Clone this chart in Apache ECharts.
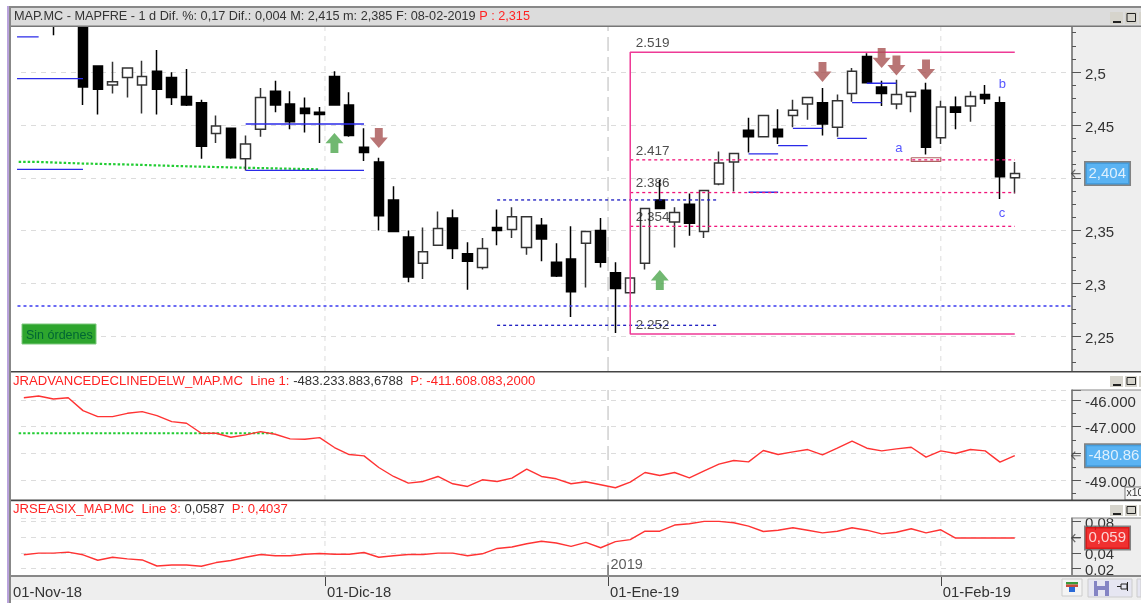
<!DOCTYPE html>
<html><head><meta charset="utf-8">
<script src="https://cdn.jsdelivr.net/npm/echarts@6/dist/echarts.min.js"></script>
<style>html,body{margin:0;padding:0;background:#fff}#c{width:1141px;height:603px}</style>
</head><body><div id="c"></div>
<script>
// ---- candles: [index, open, close, low, high]
const candles = [
[-2,2.56,2.55,2.535,2.57],[0,2.56,2.486,2.469,2.57],[1,2.506,2.484,2.46,2.506],[2,2.488,2.491,2.48,2.51],
[3,2.495,2.504,2.476,2.504],[4,2.488,2.496,2.461,2.511],[5,2.501,2.484,2.46,2.521],[6,2.495,2.476,2.469,2.5],
[7,2.477,2.469,2.468,2.503],[8,2.471,2.43,2.418,2.474],[9,2.442,2.449,2.433,2.459],[10,2.447,2.419,2.418,2.447],
[11,2.418,2.432,2.407,2.44],[12,2.446,2.476,2.439,2.485],[13,2.482,2.469,2.462,2.492],[14,2.47,2.453,2.446,2.482],
[15,2.466,2.461,2.443,2.476],[16,2.462,2.46,2.433,2.467],[17,2.496,2.469,2.469,2.501],[18,2.469,2.44,2.439,2.481],
[19,2.429,2.424,2.416,2.447],[20,2.415,2.364,2.35,2.419],[21,2.379,2.349,2.349,2.392],[22,2.344,2.306,2.301,2.35],
[23,2.319,2.33,2.304,2.353],[24,2.336,2.352,2.336,2.368],[25,2.362,2.333,2.323,2.37],[26,2.328,2.321,2.294,2.339],
[27,2.315,2.333,2.313,2.343],[28,2.353,2.35,2.336,2.37],[29,2.351,2.363,2.343,2.372],[30,2.334,2.363,2.327,2.363],
[31,2.355,2.342,2.321,2.362],[32,2.32,2.307,2.306,2.338],[33,2.323,2.292,2.268,2.354],[34,2.338,2.349,2.296,2.349],
[35,2.35,2.32,2.315,2.362],[36,2.31,2.295,2.253,2.32],[37,2.291,2.305,2.291,2.305],[38,2.319,2.371,2.313,2.371],
[39,2.379,2.371,2.371,2.398],[40,2.358,2.367,2.334,2.372],[41,2.375,2.357,2.345,2.385],[42,2.349,2.388,2.343,2.388],
[43,2.394,2.414,2.393,2.425],[44,2.415,2.423,2.387,2.423],[45,2.445,2.439,2.424,2.457],[46,2.439,2.459,2.439,2.459],
[47,2.446,2.439,2.432,2.465],[48,2.459,2.464,2.448,2.474],[49,2.47,2.476,2.455,2.476],[50,2.471,2.451,2.44,2.485],
[51,2.448,2.473,2.439,2.479],[52,2.48,2.501,2.472,2.504],[53,2.515,2.49,2.49,2.518],[54,2.486,2.48,2.468,2.492],
[55,2.47,2.479,2.465,2.493],[56,2.477,2.481,2.462,2.481],[57,2.483,2.429,2.422,2.49],[58,2.438,2.467,2.432,2.473],
[59,2.467,2.462,2.446,2.477],[60,2.468,2.477,2.453,2.482],[61,2.479,2.475,2.47,2.488],[62,2.471,2.401,2.38,2.477],
[63,2.4,2.404,2.385,2.415]];
// ---- indicator lines, index -4 .. 63
const advDecl = [-45913,-45851,-45963,-45913,-46398,-46622,-46622,-46498,-46436,-46585,-46809,-46871,-47245,-47245,-47394,-47307,-47183,-47282,-47457,-47469,-47407,-47780,-48042,-48092,-48527,-48864,-49112,-49050,-48864,-49137,-49237,-48988,-49050,-48926,-48590,-48864,-48951,-49137,-49063,-49175,-49287,-49075,-48714,-48826,-48714,-48913,-48652,-48403,-48266,-48316,-47892,-48042,-47942,-47855,-48054,-47805,-47544,-47805,-47905,-47830,-47768,-48141,-47905,-48004,-47855,-47905,-48328,-48086];
const seasix = [0.0374,0.0396,0.0396,0.0409,0.0374,0.0304,0.0343,0.0322,0.0308,0.023,0.0243,0.0243,0.0226,0.0274,0.03,0.0343,0.0378,0.0361,0.0361,0.0382,0.0391,0.0382,0.0382,0.0404,0.0343,0.0361,0.0378,0.0378,0.0396,0.0396,0.0361,0.0387,0.0456,0.0474,0.0517,0.0548,0.0526,0.0482,0.0535,0.0465,0.0543,0.0569,0.0678,0.0678,0.0757,0.0774,0.0804,0.0804,0.0787,0.0743,0.0674,0.0691,0.0722,0.0691,0.0656,0.0678,0.0722,0.0691,0.0643,0.0665,0.0709,0.0656,0.0696,0.059,0.059,0.059,0.059,0.059];
const greenPrice = [[-4.35,2.415],[-3,2.415],[-3,2.4135],[0,2.4135],[0,2.4125],[3.3,2.4125],[3.3,2.411],[6.7,2.411],[6.7,2.4095],[11,2.4095],[11,2.408],[16,2.408]];
const greenAdv = [[-4.35,-47245],[13,-47245]];
// ---- annotations on the price panel: [x0, x1, price]
const blueLines = [[-4.46,-3,2.5335],[-4.46,0,2.494],[-4.46,0,2.408],[11,19,2.451],[11,19,2.407],[45,47,2.4226],[47,49,2.4304],[48,50,2.4469],[51,53,2.4374],[52,54,2.4712],[53,55,2.4896],[45,47,2.3863]];
const navyDash = [[28,43,2.379],[28,43,2.2602]];
const wideBlue = [[-4.43,66.87,2.2785]];
const fibDash = [[37,63,2.417],[37,63,2.386],[37,63,2.354]];
const fibBox = [[63,2.519],[37,2.519],[37,2.252],[63,2.252]];
const brownBox = [[56,2.419],[58,2.419],[58,2.4155],[56,2.4155],[56,2.419]];
const fibLabels = [[37,2.519,'2.519'],[37,2.417,'2.417'],[37,2.386,'2.386'],[37,2.354,'2.354'],[37,2.252,'2.252']];
const waveLabels = [[54.75,2.4282,'a'],[61.75,2.4889,'b'],[61.75,2.3666,'c']];
const upArrows = [[17,2.433],[39,2.3031]];
const downArrows = [[20,2.4377],[50,2.5003],[54,2.5135],[55,2.5064],[57,2.5027]];
// ---- axes
const xMin = -4.868, xMax = 66.87;
const dateTicks = [-4.868,16.36,35.5,58];
const dateLabels = ['01-Nov-18','01-Dic-18','01-Ene-19','01-Feb-19'];
const hiddenTicks = [2.4,-48000,0.06];
const lastValues = {price:2.404, adv:-48086, sea:0.059};

const FONT='"Liberation Sans",Arial,sans-serif', TFONT='"Liberation Sans",Arial,sans-serif';
const grids=[{left:11,width:1061,top:25,height:346},{left:11,width:1061,top:390,height:110},{left:11,width:1061,top:518,height:58}];
const yr=[[2.2169,2.5448],[-49745,-45625],[0.0101,0.0848]];
const DASH='#dcdcdc';
const hide=(v,s)=>hiddenTicks.some(h=>Math.abs(h-v)<1e-6)?'':'{a|'+s+'}';
function xAxis(i){return {gridIndex:i,type:'value',min:xMin,max:xMax,splitLine:{show:false},
  axisLine:{show:false},
  axisTick:i==2?{show:true,customValues:dateTicks.slice(1),length:10,lineStyle:{color:'#444',width:1}}:{show:false},
  axisLabel:i==2?{show:true,customValues:dateTicks,align:'left',margin:9,padding:[0,0,0,2],color:'#333',fontFamily:FONT,fontSize:14.8,hideOverlap:false,showMinLabel:true,showMaxLabel:true,
     formatter:v=>dateLabels[dateTicks.indexOf(v)]||''}:{show:false}};}
function yAxis(i,fmt,split,minor){return {gridIndex:i,type:'value',position:'right',min:yr[i][0],max:yr[i][1],splitNumber:split,
  axisLine:{show:true,onZero:false,lineStyle:{color:'#666',width:1.5}},
  axisTick:{show:true,length:9,lineStyle:{color:'#555'}},
  minorTick:minor?{show:true,splitNumber:minor,length:4,lineStyle:{color:'#555'}}:{show:false},
  splitLine:{show:true,lineStyle:{color:DASH,type:[5,5],width:1}},
  axisLabel:{show:true,margin:13,color:'#333',fontFamily:FONT,fontSize:15,showMinLabel:false,showMaxLabel:false,formatter:fmt,
    rich:{a:{padding:[5,0,0,0],color:'#333',fontFamily:FONT,fontSize:15}}}};}
function seg(data,color,type,width,g,z,name){return {type:'line',name:name||'',xAxisIndex:g||0,yAxisIndex:g||0,data:data,symbol:'none',silent:true,animation:false,z:z||3,
  lineStyle:{color:color,type:type||'solid',width:width||1.3}};}
function mark(data,sym,color,size){return {type:'scatter',data:data,symbol:sym,symbolSize:size,silent:true,animation:false,z:6,itemStyle:{color:color},clip:false};}
function labels(data,color,size,offset,g,z){return {type:'scatter',xAxisIndex:g||0,yAxisIndex:g||0,symbolSize:1,itemStyle:{color:'transparent'},silent:true,animation:false,z:z||7,
  data:data.map(d=>({value:[d[0],d[1]],label:{formatter:d[2]}})),
  label:{show:true,position:'right',distance:2,offset:offset,color:color,fontFamily:FONT,fontSize:size}};}
function valueBox(x,y,g,text,bg,w){return {type:'scatter',xAxisIndex:g,yAxisIndex:g,symbolSize:1,clip:false,itemStyle:{color:'transparent'},silent:true,animation:false,z:9,
  data:[{value:[x,y],label:{formatter:text}}],
  label:{show:true,position:'right',distance:0,color:'#fff',fontFamily:FONT,fontSize:15,backgroundColor:bg,borderColor:'#666',borderWidth:1.5,padding:[3,1,2,3],width:w,height:17,overflow:'truncate',ellipsis:''}};}
const fontDark='#333',red='#f22';
const titles=[
 {left:14,top:10,padding:0,z:12,text:'MAP.MC - MAPFRE - 1 d Dif. %: 0,17 Dif.: 0,004 M: 2,415 m: 2,385 F: 08-02-2019 {r|P : 2,315}',
  textStyle:{fontFamily:TFONT,fontSize:12.7,fontWeight:'normal',color:fontDark,rich:{r:{fontFamily:TFONT,fontSize:12.7,color:red}}}},
 {left:13,top:375,padding:0,z:12,text:'{r|JRADVANCEDECLINEDELW_MAP.MC  Line 1:} {d|-483.233.883,6788}  {r|P: -411.608.083,2000}',
  textStyle:{fontFamily:TFONT,fontSize:13.1,fontWeight:'normal',rich:{r:{fontFamily:TFONT,fontSize:13.1,color:red},d:{fontFamily:TFONT,fontSize:13.1,color:fontDark}}}},
 {left:13,top:503,padding:0,z:12,text:'{r|JRSEASIX_MAP.MC  Line 3:} {d|0,0587}  {r|P: 0,4037}',
  textStyle:{fontFamily:TFONT,fontSize:13.1,fontWeight:'normal',rich:{r:{fontFamily:TFONT,fontSize:13.1,color:red},d:{fontFamily:TFONT,fontSize:13.1,color:fontDark}}}}
];
function R(x,y,w,h,fill,z,stroke){return {type:'rect',shape:{x:x,y:y,width:w,height:h},style:{fill:fill,stroke:stroke||null,lineWidth:stroke?1:0},z:z,silent:true};}
function buttons(y,h){return [R(1110,y,13,h,'#d6d4cc',20),R(1113,y+h-3,8,2,'#222',21),R(1125,y,12,h,'#d6d4cc',20),R(1127,y+1.5,8.5,h-4,'none',21,'#222'),R(1139,y,2,h,'#d6d4cc',20)];}
const chrome=[
 R(1072,26,69,346,'#eeeeee',0),R(1072,390,69,110,'#eeeeee',0),R(1072,518,69,58,'#eeeeee',0),
 R(11,576,1130,24,'#eeeeee',0),
 R(0,0,1141,6,'#ffffff',10),R(10,8,1131,18,'#dcdcdc',10),
 R(11,26,6,550,'#ffffff',1),
 R(1072,501,69,16.5,'#ffffff',10),
 R(10,6,1131,2,'#888888',30),R(10,25.5,1131,1.5,'#777777',30),
 R(10,371,1131,1.6,'#444444',30),R(10,499.6,1131,1.6,'#444444',30),R(10,575,1131,2,'#888888',30),
 R(1072,389.5,69,1,'#888888',30),R(1072,517.5,69,1,'#888888',30),
 R(7,6,2,597,'#b9a3dc',30),R(9,6,2,597,'#888888',30),
 ...buttons(12,12),...buttons(376,11),...buttons(505,11),
 // status tag
 R(22,324,74,20,'#2ea52e',25,'#7cc87c'),
 {type:'text',x:26,y:329,z:26,silent:true,style:{text:'Sin órdenes',fill:'#063',font:'12.5px '+TFONT}},
 // x100 tag
 R(1125,487,20,13,'#f8f8f8',26,'#777'),
 {type:'text',x:1126.5,y:488,z:27,silent:true,style:{text:'x100',fill:'#333',font:'10.5px '+FONT}},
 // toolbar
 R(1062,579,20,17,'#f4f4f4',26,'#ccc'),R(1066,582,12,2.5,'#3a9a3a',27),R(1066,584.5,12,2.5,'#c84a3a',27),R(1069,587,6,5,'#2a6ad8',27),
 R(1088,579,44,18,'#e6e6f2',26,'#ccc'),R(1094,581,15,15,'#8484c4',27),R(1097,581,8,5,'#e6e6f2',28),R(1098,590,7,6,'#e6e6f2',28),
 R(1121,584,6,5,'none',27,'#222'),R(1117,586,4,1,'#222',27),R(1127,582,1,9,'#222',27),R(1137,579,4,18,'#e6e6f2',26,'#ccc')
];
const series=[];
// vertical separators
dateTicks.slice(1).forEach((x,k)=>{ [0,1,2].forEach(g=>{
  series.push(seg([[x,yr[g][0]],[x,yr[g][1]]],k==1?'#c4c4c4':DASH,k==1?[14,6]:[5,5],k==1?1.2:1,g,1));
});});
series.push(seg([[35.5,0.0101],[35.5,0.0242]],'#444','solid',1,2,4));
series.push(seg(greenPrice,'#22cc33',[2.5,2],2.2,0,2));
series.push({type:'candlestick',name:'MAP.MC',xAxisIndex:0,yAxisIndex:0,data:candles,barWidth:10,silent:true,animation:false,z:3,
  itemStyle:{color:'#ffffff',color0:'#000000',borderColor:'#333333',borderColor0:'#000000',borderWidth:1.5}});
blueLines.forEach(b=>series.push(seg([[b[0],b[2]],[b[1],b[2]]],'#2a2ae8','solid',1.3,0,4)));
navyDash.forEach(b=>series.push(seg([[b[0],b[2]],[b[1],b[2]]],'#1a1ac0',[3,3],1.3,0,4)));
wideBlue.forEach(b=>series.push(seg([[b[0],b[2]],[b[1],b[2]]],'#3a3af0',[3,3],1.5,0,4)));
fibDash.forEach(b=>series.push(seg([[b[0],b[2]],[b[1],b[2]]],'#f0147a',[3,3],1.3,0,5)));
series.push(seg(fibBox,'#ee3a96','solid',1.5,0,5));
series.push(seg(brownBox,'#b06060','solid',1.2,0,5));
series.push(labels(fibLabels,'#222',13.5,[3,-9]));
series.push(labels(waveLabels,'#2a2aff',13,[0,0]));
const upPath='path://M5 0 L10 5.2 L7.2 5.2 L7.2 10 L2.8 10 L2.8 5.2 L0 5.2 Z';
const downPath='path://M2.8 0 L7.2 0 L7.2 4.8 L10 4.8 L5 10 L0 4.8 L2.8 4.8 Z';
series.push(mark(upArrows,upPath,'#4ea64e',[18,20]));
series.push(mark(downArrows,downPath,'#a85252',[18,20]));
// indicators
series.push(seg(greenAdv,'#22cc33',[2.5,2],2.2,1,2));
series.push(seg(advDecl.map((v,i)=>[i-4,v]),'#f33','solid',1.4,1,3,'Line 1'));
series.push(seg(seasix.map((v,i)=>[i-4,v]),'#f33','solid',1.4,2,3,'Line 3'));
series.push(labels([[35.5,0.0242,'2019']],'#333',14.5,[0,0],2));
// last value boxes
series.push(valueBox(67.75,lastValues.price,0,'2,404','#35a4f4',40));
series.push(valueBox(67.75,lastValues.adv,1,'-480.861','#35a4f4',54));
series.push(valueBox(67.75,lastValues.sea,2,'0,059','#f00000',40));
const arrowPath='path://M4 0 L0 4 L4 8 M0 4 L10 4';
[[lastValues.price,0],[lastValues.adv,1],[lastValues.sea,2]].forEach(a=>{
  series.push({type:'scatter',xAxisIndex:a[1],yAxisIndex:a[1],data:[[67.15,a[0]]],symbol:arrowPath,symbolSize:[9,8],clip:false,silent:true,animation:false,z:8,
    itemStyle:{color:'none',borderColor:'#444',borderWidth:1.2}});
});
const chart=echarts.init(document.getElementById('c'),null,{renderer:'canvas'});
chart.setOption({animation:false,backgroundColor:'#fff',title:titles,grid:grids,
  xAxis:[xAxis(0),xAxis(1),xAxis(2)],
  yAxis:[yAxis(0,v=>hide(v,String(+v.toFixed(2)).replace('.',',')),6,4),yAxis(1,v=>hide(v,(v/1000).toFixed(3)),4,2),yAxis(2,v=>hide(v,v.toFixed(2).replace('.',',')),4,0)],
  tooltip:{show:false},legend:{show:false},graphic:{elements:chrome},series:series});
</script></body></html>
